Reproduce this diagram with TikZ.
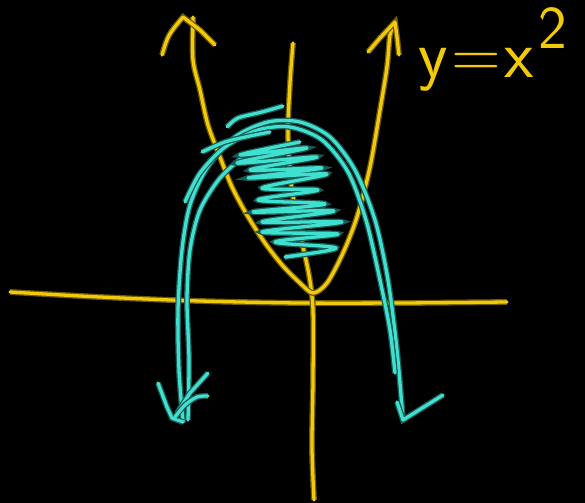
\documentclass[tikz,border=0pt]{standalone}
\usepackage{tikz}
\definecolor{penyellow}{RGB}{242,202,10}
\definecolor{pencyan}{RGB}{64,224,208}
\begin{document}
\begin{tikzpicture}[
  x=0.03cm,y=-0.03cm,
  ypen/.style={draw=penyellow,line width=2.8pt,line cap=round,line join=round,
    preaction={draw=penyellow!45!black,line width=5pt}},
  cpen/.style={draw=pencyan,line width=2.8pt,line cap=round,line join=round,
    preaction={draw=pencyan!40!black,line width=5pt}},
  every node/.style={text=penyellow}
]
\useasboundingbox (0,0) rectangle (585,503);
\fill[black] (0,0) rectangle (585,503);
% axes
\draw[ypen] plot[smooth] coordinates {(10,292) (100,297) (200,301) (300,303) (400,303) (507,302)};
\draw[ypen] plot[smooth] coordinates {(293,43) (290,83) (288,133) (291,183) (300,233) (309,275) (313,310) (313,380) (312,447) (314,500)};
% y = x^2
\draw[ypen] plot[smooth] coordinates {(193,17) (193,60) (200,90) (208,125) (220,157) (232,187) (247,215) (265,243) (283,266) (300,283) (313,293) (327,283) (343,253) (357,217) (370,167) (380,110) (387,67) (390,35) (395,22)};
\draw[ypen] (162,55) .. controls (168,35) .. (183,17) -- (200,30) -- (215,45);
\draw[ypen] (368,52) -- (380,38) -- (395,22) -- (397,37) -- (399,55);
\node[anchor=base west,inner sep=0pt,font=\sffamily\fontsize{58}{64}\selectfont] (eq) at (418,77) {y\kern3pt=\kern3pt x\kern4pt\raisebox{0.42em}{\fontsize{52}{56}\selectfont 2}};
% downward parabola
\draw[cpen] plot[smooth] coordinates {(183,422) (179,370) (178,310) (182,250) (190,205) (207,168) (235,137) (268,122) (300,122) (330,137) (355,170) (375,220) (388,280) (397,350) (403,420)};
\draw[cpen] plot[smooth] coordinates {(185,202) (200,173) (225,147) (258,130) (290,127) (322,140) (348,172) (366,220) (380,280) (390,330) (395,373)};
\draw[cpen] plot[smooth] coordinates {(188,420) (189,360) (187,300) (190,250) (200,210) (220,178) (245,155)};
\draw[cpen] plot[smooth] coordinates {(227,127) (238,118) (262,112) (283,106)};
\draw[cpen] plot[smooth] coordinates {(202,152) (225,142) (250,136) (270,132)};
\draw[cpen] (158,383) -- (167,407) -- (172,418) -- (183,422);
\draw[cpen] (208,373) -- (190,393) -- (177,413);
\draw[cpen] plot[smooth] coordinates {(208,396) (197,397) (185,405) (175,417)};
\draw[cpen] (397,402) -- (403,420) -- (443,395);
% shading between the curves
\draw[cpen] plot[smooth,tension=0.6] coordinates {(300,142) (240,155) (307,148) (237,163) (317,157) (250,170) (322,168) (248,178) (327,174) (262,188) (318,190) (258,200) (325,204) (253,212) (334,211) (262,222) (342,222) (262,232) (338,234) (275,242) (336,248) (285,257) (320,252)};
\end{tikzpicture}
\end{document}
